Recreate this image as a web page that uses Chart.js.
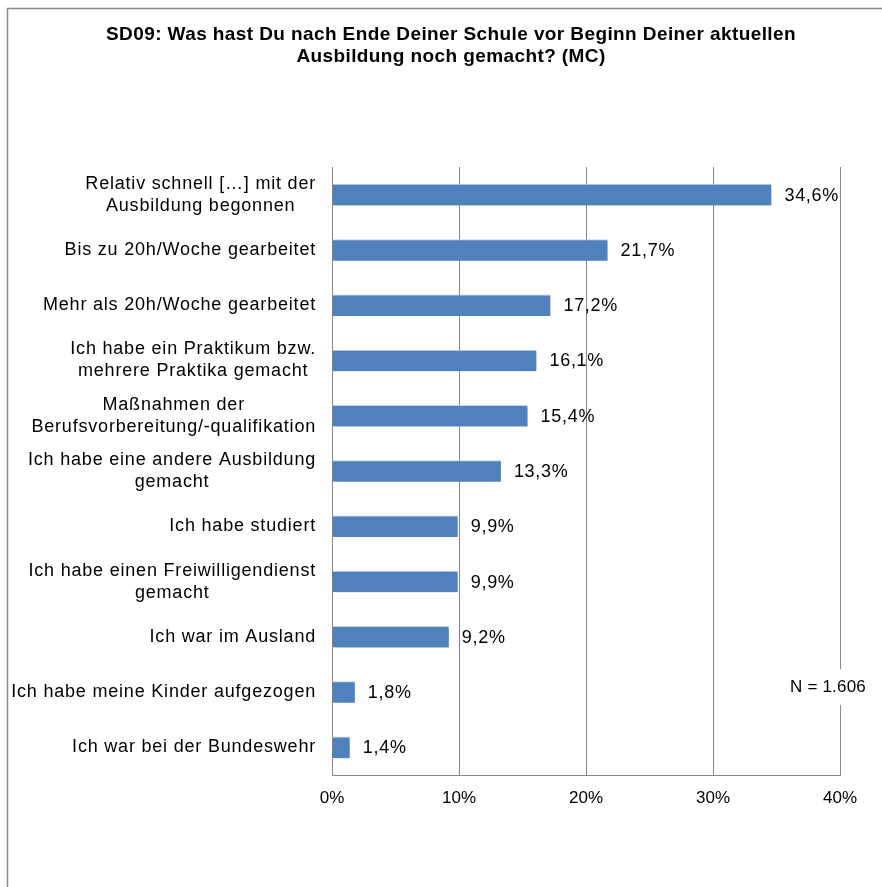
<!DOCTYPE html>
<html>
<head>
<meta charset="utf-8">
<script src="https://cdn.jsdelivr.net/npm/chart.js@4.4.1/dist/chart.umd.min.js"></script>
<style>
  html, body { margin: 0; padding: 0; background: #fff; }
  #wrap { width: 882px; height: 887px; }
</style>
</head>
<body>
<div id="wrap"><canvas id="chart" width="882" height="887"></canvas></div>
<script>
const titleLines = [
  "SD09: Was hast Du nach Ende Deiner Schule vor Beginn Deiner aktuellen",
  "Ausbildung noch gemacht? (MC)"
];
const categories = [
  ["Relativ schnell […] mit der", "Ausbildung begonnen"],
  ["Bis zu 20h/Woche gearbeitet"],
  ["Mehr als 20h/Woche gearbeitet"],
  ["Ich habe ein Praktikum bzw.", "mehrere Praktika gemacht"],
  ["Maßnahmen der", "Berufsvorbereitung/-qualifikation"],
  ["Ich habe eine andere Ausbildung", "gemacht"],
  ["Ich habe studiert"],
  ["Ich habe einen Freiwilligendienst", "gemacht"],
  ["Ich war im Ausland"],
  ["Ich habe meine Kinder aufgezogen"],
  ["Ich war bei der Bundeswehr"]
];
const shares = [34.6, 21.7, 17.2, 16.1, 15.4, 13.3, 9.9, 9.9, 9.2, 1.8, 1.4];
const xTicks = [0, 10, 20, 30, 40];
const sampleNote = "N = 1.606";

const FONT = "'Liberation Sans', Arial, sans-serif";
const pct = v => v.toFixed(1).replace(".", ",") + "%";

// frame, title, category labels, value labels and the N note
const decorations = {
  id: "decorations",
  beforeDraw(chart) {
    const ctx = chart.ctx;
    ctx.save();
    ctx.strokeStyle = "#8a8a8a";
    ctx.lineWidth = 1.5;
    ctx.beginPath();
    ctx.moveTo(7.5, 900);
    ctx.lineTo(7.5, 8.5);
    ctx.lineTo(900, 8.5);
    ctx.stroke();

    ctx.fillStyle = "#000";
    ctx.font = "bold 19px " + FONT;
    ctx.letterSpacing = "0.4px";
    ctx.textAlign = "center";
    ctx.textBaseline = "middle";
    titleLines.forEach((t, i) => ctx.fillText(t, 451, 35 + i * 22));
    ctx.restore();
  },
  beforeDatasetsDraw(chart) {
    const ctx = chart.ctx;
    ctx.save();
    ctx.shadowColor = "rgba(0,0,0,0.35)";
    ctx.shadowOffsetX = 2;
    ctx.shadowOffsetY = 2;
    ctx.shadowBlur = 3;
  },
  afterDatasetsDraw(chart) {
    const ctx = chart.ctx;
    ctx.restore();
    const y = chart.scales.y;
    const x = chart.scales.x;
    ctx.save();
    ctx.fillStyle = "#000";
    ctx.font = "18px " + FONT;
    ctx.letterSpacing = "0.8px";
    ctx.textBaseline = "middle";

    // category labels: block right aligned, lines centred inside the block
    const right = chart.chartArea.left - 16;
    categories.forEach((lines, i) => {
      const cy = y.getPixelForValue(i);
      const w = Math.max(...lines.map(l => ctx.measureText(l).width));
      ctx.textAlign = "center";
      lines.forEach((l, k) => {
        ctx.fillText(l, right - w / 2, cy + (k - (lines.length - 1) / 2) * 22);
      });
    });

    // value labels next to the bars
    ctx.letterSpacing = "0.7px";
    ctx.textAlign = "left";
    chart.getDatasetMeta(0).data.forEach((bar, i) => {
      ctx.fillText(pct(shares[i]), bar.x + 13, bar.y + 1);
    });

    // sample size note with a white box over the grid line
    ctx.font = "17px " + FONT;
    ctx.letterSpacing = "0.2px";
    const nx = x.getPixelForValue(40) - 12;
    const ny = y.getPixelForValue(9) - 5;
    const nw = ctx.measureText(sampleNote).width;
    ctx.fillStyle = "#fff";
    ctx.fillRect(nx - nw / 2 - 6, ny - 18, nw + 12, 36);
    ctx.fillStyle = "#000";
    ctx.textAlign = "center";
    ctx.fillText(sampleNote, nx, ny);
    ctx.restore();
  }
};

new Chart(document.getElementById("chart"), {
  type: "bar",
  data: {
    labels: categories.map(c => c.join(" ")),
    datasets: [{
      data: shares,
      backgroundColor: "#4f81bd",
      borderColor: "rgba(190,210,235,0.9)",
      borderWidth: { top: 1, left: 0, right: 0, bottom: 0 },
      borderSkipped: false,
      barPercentage: 0.39,
      categoryPercentage: 1
    }]
  },
  options: {
    indexAxis: "y",
    responsive: false,
    animation: false,
    layout: { padding: { left: 332, right: 42, top: 167, bottom: 52 } },
    plugins: {
      legend: { display: false },
      title: { display: false },
      tooltip: { enabled: false }
    },
    scales: {
      x: {
        min: 0,
        max: 40,
        afterBuildTicks: s => { s.ticks = xTicks.map(v => ({ value: v })); },
        afterFit: s => { s.height = 60; },
        grid: { color: "#868686", lineWidth: 1, drawTicks: false },
        border: { color: "#868686", width: 1 },
        ticks: {
          padding: 13,
          color: "#000",
          font: { family: FONT, size: 17 },
          callback: v => v + "%"
        }
      },
      y: {
        afterFit: s => { s.width = 0; },
        grid: { display: false },
        border: { color: "#868686", width: 1 },
        ticks: { display: false }
      }
    }
  },
  plugins: [decorations]
});
</script>
</body>
</html>
